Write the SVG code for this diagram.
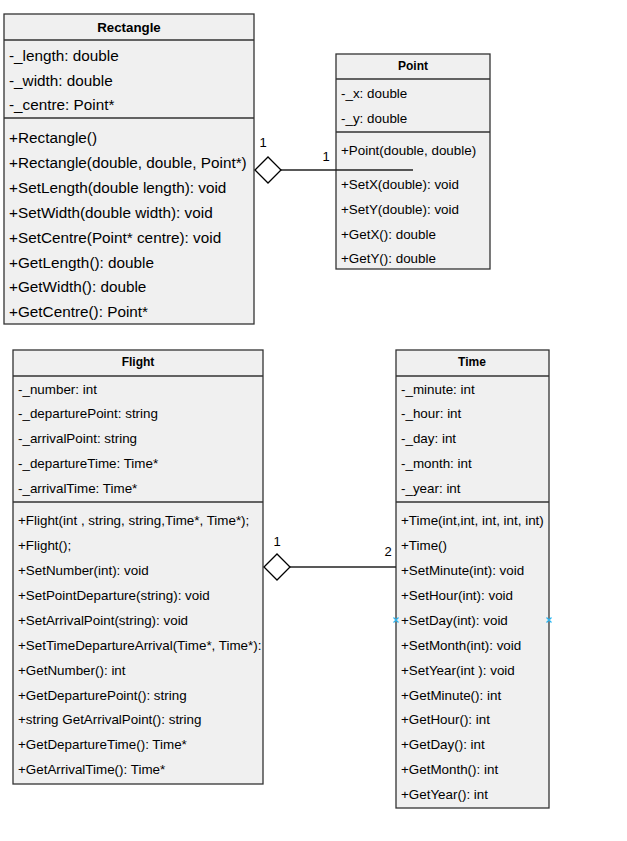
<svg xmlns="http://www.w3.org/2000/svg" width="627" height="841" viewBox="0 0 627 841">
  <style>
    .box { fill: #f0f0f0; stroke: #333333; stroke-width: 1.3; }
    .div { stroke: #333333; stroke-width: 1.3; fill: none; }
    .hd { font-family: "Liberation Sans", Arial, sans-serif; font-weight: bold; fill: #000; text-anchor: middle; }
    .r14 { font-family: "Liberation Sans", Arial, sans-serif; font-size: 15.3px; fill: #000; }
    .r12 { font-family: "Liberation Sans", Arial, sans-serif; font-size: 13.4px; fill: #000; }
    .lbl { font-family: "Liberation Sans", Arial, sans-serif; font-size: 13px; fill: #000; text-anchor: middle; }
    .edge { stroke: #222222; stroke-width: 1.3; fill: none; }
    .dia { fill: #ffffff; stroke: #000000; stroke-width: 1.3; }
    .mark { stroke: #29b6f2; stroke-width: 1.2; }
  </style>

  <!-- Rectangle class -->
  <g id="rectangle">
    <rect class="box" x="4" y="14" width="250" height="310"/>
    <line class="div" x1="4" y1="40" x2="254" y2="40"/>
    <line class="div" x1="4" y1="118" x2="254" y2="118"/>
    <text class="hd" x="129" y="32" font-size="13.3">Rectangle</text>
    <text class="r14" x="9" y="61">-_length: double</text>
    <text class="r14" x="9" y="86">-_width: double</text>
    <text class="r14" x="9" y="110">-_centre: Point*</text>
    <text class="r14" x="9" y="143">+Rectangle()</text>
    <text class="r14" x="9" y="168">+Rectangle(double, double, Point*)</text>
    <text class="r14" x="9" y="193">+SetLength(double length): void</text>
    <text class="r14" x="9" y="218">+SetWidth(double width): void</text>
    <text class="r14" x="9" y="243">+SetCentre(Point* centre): void</text>
    <text class="r14" x="9" y="268">+GetLength(): double</text>
    <text class="r14" x="9" y="292">+GetWidth(): double</text>
    <text class="r14" x="9" y="317">+GetCentre(): Point*</text>
  </g>

  <!-- Point class -->
  <g id="point">
    <rect class="box" x="336" y="54" width="154" height="215"/>
    <line class="div" x1="336" y1="79" x2="490" y2="79"/>
    <line class="div" x1="336" y1="132" x2="490" y2="132"/>
    <text class="hd" x="413" y="70" font-size="12">Point</text>
    <text class="r12" x="341" y="98">-_x: double</text>
    <text class="r12" x="341" y="123">-_y: double</text>
    <text class="r12" x="341" y="155">+Point(double, double)</text>
    <text class="r12" x="341" y="189">+SetX(double): void</text>
    <text class="r12" x="341" y="214">+SetY(double): void</text>
    <text class="r12" x="341" y="239">+GetX(): double</text>
    <text class="r12" x="341" y="263">+GetY(): double</text>
  </g>

  <!-- Flight class -->
  <g id="flight">
    <rect class="box" x="13" y="350" width="250" height="434"/>
    <line class="div" x1="13" y1="376" x2="263" y2="376"/>
    <line class="div" x1="13" y1="502" x2="263" y2="502"/>
    <text class="hd" x="138" y="366" font-size="12">Flight</text>
    <text class="r12" x="18" y="394">-_number: int</text>
    <text class="r12" x="18" y="418">-_departurePoint: string</text>
    <text class="r12" x="18" y="443">-_arrivalPoint: string</text>
    <text class="r12" x="18" y="468">-_departureTime: Time*</text>
    <text class="r12" x="18" y="493">-_arrivalTime: Time*</text>
    <text class="r12" x="18" y="525">+Flight(int , string, string,Time*, Time*);</text>
    <text class="r12" x="18" y="550">+Flight();</text>
    <text class="r12" x="18" y="575">+SetNumber(int): void</text>
    <text class="r12" x="18" y="600">+SetPointDeparture(string): void</text>
    <text class="r12" x="18" y="625">+SetArrivalPoint(string): void</text>
    <text class="r12" x="18" y="650">+SetTimeDepartureArrival(Time*, Time*):</text>
    <text class="r12" x="18" y="675">+GetNumber(): int</text>
    <text class="r12" x="18" y="700">+GetDeparturePoint(): string</text>
    <text class="r12" x="18" y="724">+string GetArrivalPoint(): string</text>
    <text class="r12" x="18" y="749">+GetDepartureTime(): Time*</text>
    <text class="r12" x="18" y="774">+GetArrivalTime(): Time*</text>
  </g>

  <!-- Time class -->
  <g id="time">
    <rect class="box" x="396" y="350" width="153" height="458"/>
    <line class="div" x1="396" y1="376" x2="549" y2="376"/>
    <line class="div" x1="396" y1="502" x2="549" y2="502"/>
    <text class="hd" x="472" y="366" font-size="12">Time</text>
    <text class="r12" x="401" y="394">-_minute: int</text>
    <text class="r12" x="401" y="418">-_hour: int</text>
    <text class="r12" x="401" y="443">-_day: int</text>
    <text class="r12" x="401" y="468">-_month: int</text>
    <text class="r12" x="401" y="493">-_year: int</text>
    <text class="r12" x="401" y="525">+Time(int,int, int, int, int)</text>
    <text class="r12" x="401" y="550">+Time()</text>
    <text class="r12" x="401" y="575">+SetMinute(int): void</text>
    <text class="r12" x="401" y="600">+SetHour(int): void</text>
    <text class="r12" x="401" y="625">+SetDay(int): void</text>
    <text class="r12" x="401" y="650">+SetMonth(int): void</text>
    <text class="r12" x="401" y="675">+SetYear(int ): void</text>
    <text class="r12" x="401" y="700">+GetMinute(): int</text>
    <text class="r12" x="401" y="724">+GetHour(): int</text>
    <text class="r12" x="401" y="749">+GetDay(): int</text>
    <text class="r12" x="401" y="774">+GetMonth(): int</text>
    <text class="r12" x="401" y="799">+GetYear(): int</text>
    <!-- connection point markers -->
    <path class="mark" d="M393.5,617.5 L398.5,622.5 M398.5,617.5 L393.5,622.5"/>
    <path class="mark" d="M546.5,617.5 L551.5,622.5 M551.5,617.5 L546.5,622.5"/>
  </g>

  <!-- Aggregation connectors -->
  <g id="connectors">
    <line class="edge" x1="281" y1="170" x2="413" y2="170"/>
    <polygon class="dia" points="255,170 268,157 281,170 268,183"/>
    <text class="lbl" x="263" y="147">1</text>
    <text class="lbl" x="326" y="161">1</text>

    <line class="edge" x1="290" y1="567" x2="396" y2="567"/>
    <polygon class="dia" points="264,567 277,554 290,567 277,580"/>
    <text class="lbl" x="277" y="546">1</text>
    <text class="lbl" x="388" y="556">2</text>
  </g>
</svg>
